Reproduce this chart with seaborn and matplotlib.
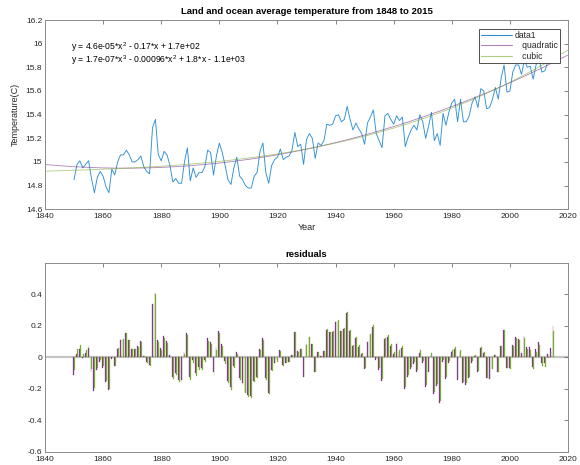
import numpy as np
import pandas as pd
import matplotlib
matplotlib.use("Agg")
import matplotlib.pyplot as plt
import seaborn as sns

# Annual land and ocean average temperature (deg C), 1850-2015
years = list(range(1850, 2016))
temps = [
    14.85, 14.98, 15.01, 14.95, 14.98, 15.01, 14.86, 14.74, 14.87, 14.92,  # 1850s
    14.88, 14.79, 14.74, 14.94, 14.89, 15.00, 15.06, 15.06, 15.10, 15.06,  # 1860s
    15.00, 15.00, 15.02, 15.05, 14.96, 14.92, 14.90, 15.29, 15.36, 15.06,  # 1870s
    15.01, 15.09, 15.06, 14.97, 14.83, 14.86, 14.82, 14.82, 15.00, 15.12,  # 1880s
    14.84, 14.95, 14.87, 14.91, 14.91, 14.96, 15.10, 15.08, 14.89, 15.05,  # 1890s
    15.16, 15.08, 14.97, 14.85, 14.81, 14.95, 15.04, 14.88, 14.85, 14.80,  # 1900s
    14.78, 14.78, 14.88, 14.91, 15.09, 15.16, 14.91, 14.82, 14.97, 15.02,  # 1910s
    15.04, 15.11, 15.02, 15.04, 15.05, 15.10, 15.25, 15.13, 15.15, 14.98,  # 1920s
    15.19, 15.24, 15.20, 15.03, 15.16, 15.14, 15.18, 15.32, 15.31, 15.32,  # 1930s
    15.39, 15.40, 15.34, 15.36, 15.47, 15.36, 15.27, 15.33, 15.28, 15.24,  # 1940s
    15.15, 15.33, 15.38, 15.44, 15.24, 15.18, 15.12, 15.39, 15.41, 15.36,  # 1950s
    15.32, 15.39, 15.35, 15.38, 15.13, 15.21, 15.27, 15.31, 15.27, 15.40,  # 1960s
    15.34, 15.20, 15.30, 15.42, 15.18, 15.24, 15.14, 15.41, 15.31, 15.42,  # 1970s
    15.50, 15.53, 15.34, 15.53, 15.34, 15.34, 15.39, 15.50, 15.55, 15.46,  # 1980s
    15.62, 15.60, 15.45, 15.46, 15.53, 15.63, 15.53, 15.71, 15.82, 15.59,  # 1990s
    15.60, 15.76, 15.82, 15.82, 15.74, 15.86, 15.80, 15.81, 15.70, 15.82,  # 2000s
    15.88, 15.76, 15.77, 15.84, 15.89, 16.04,                              # 2010s
]

fit_names = ["quadratic", "cubic"]
fit_degrees = [2, 3]
eq_labels = [
    "y = 4.6e-05*x$^{2}$ - 0.17*x + 1.7e+02",
    "y = 1.7e-07*x$^{3}$ - 0.00096*x$^{2}$ + 1.8*x - 1.1e+03",
]
x_ticks = list(range(1840, 2021, 20))
top_yticks = [14.6, 14.8, 15.0, 15.2, 15.4, 15.6, 15.8, 16.0, 16.2]
bot_yticks = [-0.6, -0.4, -0.2, 0.0, 0.2, 0.4]

c_data = "#2f8fd6"
c_quad = (0.494, 0.184, 0.556)
c_cub = (0.466, 0.674, 0.188)
axis_col = "#555555"
text_col = "#262626"

sns.set_style("white")
plt.rcParams["font.family"] = ["Liberation Sans", "DejaVu Sans"]
plt.rcParams["mathtext.fontset"] = "custom"
plt.rcParams["mathtext.rm"] = "Liberation Sans"
plt.rcParams["mathtext.it"] = "Liberation Sans:italic"

yr = np.array(years, dtype=float)
tp = np.array(temps)
x_fit = np.linspace(1840, 2020, 361)

fits = {}
for name, deg in zip(fit_names, fit_degrees):
    fits[name] = np.polynomial.Polynomial.fit(yr, tp, deg)

fig = plt.figure(figsize=(5.8, 4.65), dpi=100)
ax1 = fig.add_axes([45 / 580, 1 - 209.3 / 465, 523 / 580, 189.3 / 465])
ax2 = fig.add_axes([45 / 580, 1 - 451.7 / 465, 523 / 580, 189.0 / 465])

# --- top panel: series and polynomial fits
sns.lineplot(x=yr, y=tp, ax=ax1, color=c_data, lw=0.65, label="data1")
sns.lineplot(x=x_fit, y=fits["quadratic"](x_fit), ax=ax1, color=c_quad,
             lw=0.6, alpha=0.6, label="   quadratic")
sns.lineplot(x=x_fit, y=fits["cubic"](x_fit), ax=ax1, color=c_cub,
             lw=0.6, alpha=0.6, label="   cubic")

ax1.set_xlim(1840, 2020)
ax1.set_ylim(14.6, 16.2)
ax1.set_yticks(top_yticks)
ax1.set_yticklabels([f"{v:g}" for v in top_yticks])
ax1.set_title("Land and ocean average temperature from 1848 to 2015",
              fontsize=6.8, fontweight="bold", color="black", pad=4)
ax1.set_xlabel("Year", fontsize=6.5, color=text_col, labelpad=2)
ax1.set_ylabel("Temperature(C)", fontsize=6.5, color=text_col, labelpad=4)
ax1.text(1848.9, 15.972, eq_labels[0], fontsize=6.2, color="black", va="center")
ax1.text(1848.9, 15.862, eq_labels[1], fontsize=6.2, color="black", va="center")

leg = ax1.legend(loc="upper right", bbox_to_anchor=(0.985, 0.955),
                 fontsize=6.2, frameon=True, fancybox=False, framealpha=1,
                 handlelength=3.6, handletextpad=0.3, borderpad=0.3,
                 labelspacing=0.15, borderaxespad=0)
leg.get_frame().set_edgecolor("#333333")
leg.get_frame().set_linewidth(0.6)
for t in leg.get_texts():
    t.set_color(text_col)
for h, col in zip(leg.get_lines(), [c_data, c_quad, c_cub]):
    h.set_color(col)
    h.set_linewidth(0.8)

# --- bottom panel: residuals of each fit
rows = []
for name in fit_names:
    res = tp - fits[name](yr)
    for y, r in zip(years, res):
        rows.append({"year": y, "residual": r, "fit": name})
res_df = pd.DataFrame(rows)

ax2.axhline(0, color="#c4c4c4", lw=1.6, zorder=0)
sns.barplot(data=res_df, x="year", y="residual", hue="fit",
            hue_order=fit_names, palette=[c_quad, c_cub], native_scale=True,
            width=0.62, saturation=1, errorbar=None, legend=False,
            linewidth=0.2, ax=ax2)
for patch, col in zip(ax2.patches, [c_quad] * len(years) + [c_cub] * len(years)):
    patch.set_edgecolor(col)

ax2.set_xlim(1840, 2020)
ax2.set_ylim(-0.6, 0.6)
ax2.set_yticks(bot_yticks)
ax2.set_yticklabels([f"{v:g}" for v in bot_yticks])
ax2.set_title("residuals", fontsize=6.8, fontweight="bold", color="black", pad=4)
ax2.set_xlabel("")
ax2.set_ylabel("")

for ax in (ax1, ax2):
    ax.set_xticks(x_ticks)
    ax.set_xticklabels([str(v) for v in x_ticks])
    ax.tick_params(direction="in", length=3, width=0.5, colors=axis_col,
                   labelcolor=text_col, labelsize=6, top=True, right=True,
                   pad=2)
    ax.tick_params(axis="x", pad=3)
    for sp in ax.spines.values():
        sp.set_visible(True)
        sp.set_color("#8a8a8a")
        sp.set_linewidth(0.7)

fig.savefig("out.png", dpi=100)
